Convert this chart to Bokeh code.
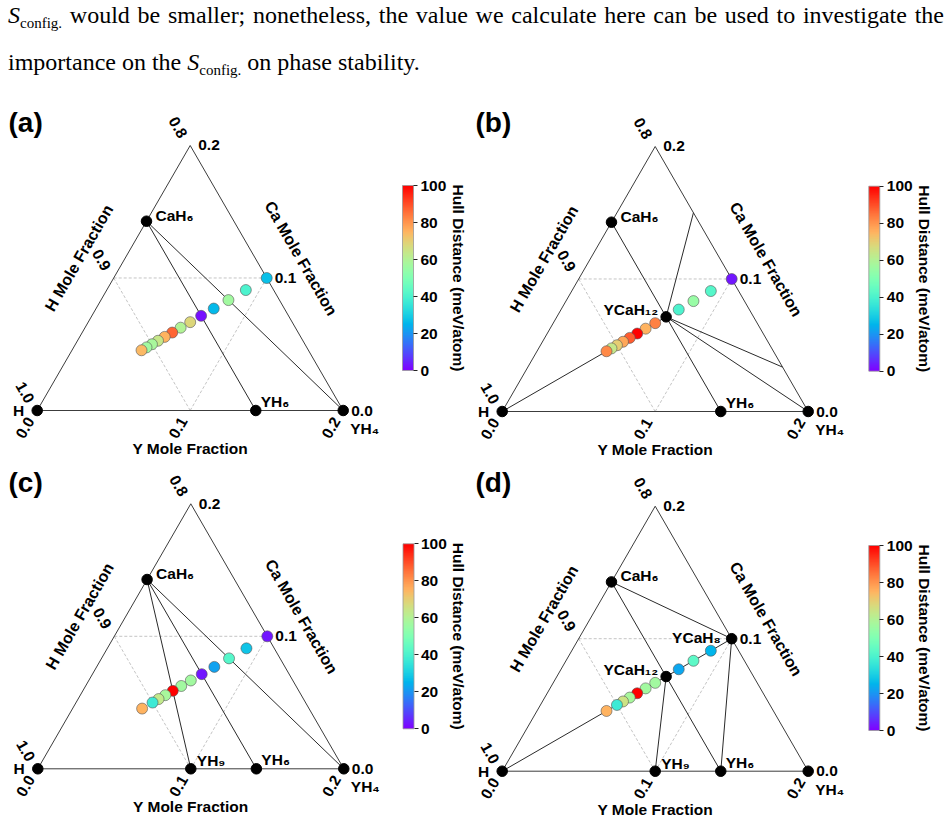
import numpy as np
from bokeh.plotting import figure
from bokeh.models import (ColumnDataSource, LinearColorMapper, ColorBar,
                          FixedTicker, Range1d, Label, Div)
from bokeh.layouts import column, row
from bokeh.embed import file_html
from bokeh.resources import INLINE
from bokeh.core.properties import value
from bokeh.transform import transform

# ---------------- data ----------------
para_line1 = "would be smaller; nonetheless, the value we calculate here can be used to investigate the"
para_line2a = "importance on the"
para_line2b = "on phase stability."

# stable phases: atoms of (Y, Ca, H)
phase_atoms = {
    "H": (0, 0, 1),
    "CaH₆": (0, 1, 6),
    "YH₆": (1, 0, 6),
    "YH₄": (1, 0, 4),
    "YH₉": (1, 0, 9),
    "YCaH₁₂": (1, 1, 12),
    "YCaH₈": (1, 1, 8),
}
# where tie lines leave the plotted window (mole fractions Y, Ca)
edge_points = {"E1": (0.05, 0.15), "E2": (0.1665, 0.0335)}

# sampled YCaH_n compositions and their hull distances (meV/atom)
a_n = [8, 9, 10, 11, 12, 13, 14, 15, 16, 17, 18, 19, 20]
a_hull = [27, 40, 57, 26, 2, 68, 60, 87, 75, 64, 58, 57, 74]
b_n = [8, 9, 10, 11, 13, 14, 15, 16, 17, 18, 19, 20]
b_hull = [3, 42, 55, 40, 83, 75, 100, 88, 77, 70, 64, 82]
c_n = [8, 9, 10, 11, 12, 13, 14, 15, 16, 17, 18, 20]
c_hull = [3, 28, 42, 22, 3, 57, 57, 100, 58, 63, 37, 75]
d_n = [9, 10, 11, 13, 14, 15, 16, 17, 18, 20]
d_hull = [25, 43, 23, 57, 57, 100, 58, 65, 37, 75]

a_stable = ["H", "CaH₆", "YH₆", "YH₄"]
b_stable = ["H", "CaH₆", "YH₆", "YH₄", "YCaH₁₂"]
c_stable = ["H", "CaH₆", "YH₉", "YH₆", "YH₄"]
d_stable = ["H", "CaH₆", "YH₉", "YH₆", "YH₄", "YCaH₁₂", "YCaH₈"]

a_ties = [("CaH₆", "YH₆"), ("CaH₆", "YH₄")]
b_ties = [("H", "YCaH₁₂"), ("CaH₆", "YCaH₁₂"), ("YCaH₁₂", "YH₆"),
          ("YCaH₁₂", "YH₄"), ("YCaH₁₂", "E1"), ("YCaH₁₂", "E2")]
c_ties = [("CaH₆", "YH₉"), ("CaH₆", "YH₆"), ("CaH₆", "YH₄")]
d_ties = [("H", "YCaH₁₂"), ("YCaH₁₂", "YCaH₈"), ("CaH₆", "YCaH₈"),
          ("CaH₆", "YCaH₁₂"), ("YCaH₁₂", "YH₆"), ("YCaH₁₂", "YH₉"),
          ("YCaH₈", "YH₆")]

y_ticks = [0.0, 0.1, 0.2]
ca_ticks = [0.0, 0.1, 0.2]
h_ticks = [1.0, 0.9, 0.8]
grid_vals = [0.1]
cb_ticks = [0, 20, 40, 60, 80, 100]
hull_low, hull_high = 0, 100
panel_letters = ["(a)", "(b)", "(c)", "(d)"]

# ---------------- styling helpers ----------------
SIDE = 306.0
S3 = np.sqrt(3) / 2
FONT = value("Liberation Sans")

xs = np.linspace(0, 1, 256)
_r = np.clip(np.abs(2 * xs - 0.5), 0, 1)
_g = np.clip(np.sin(np.pi * xs), 0, 1)
_b = np.clip(np.cos(np.pi * xs / 2), 0, 1)
rainbow = ["#%02x%02x%02x" % (int(round(255 * r)), int(round(255 * g)), int(round(255 * b)))
           for r, g, b in zip(_r, _g, _b)]

label_style = {  # (x_offset, y_offset, align)
    "H": (-13, 0, "right"),
    "CaH₆": (9, -6, "left"),
    "YH₆": (5, -9, "left"),
    "YH₄": (7, 18, "left"),
    "YH₉": (6, -8, "left"),
    "YCaH₁₂": (-8, -7, "right"),
    "YCaH₈": (-11, -1, "right"),
}


def tern_xy(Y, Ca):
    b = np.asarray(Y, dtype=float) / 0.2
    c = np.asarray(Ca, dtype=float) / 0.2
    return b + 0.5 * c, S3 * c


def frac(name):
    if name in edge_points:
        return edge_points[name]
    y, ca, h = phase_atoms[name]
    t = y + ca + h
    return y / t, ca / t


def txt(p, x, y, text, size, angle=0.0, align="center", baseline="middle", xo=0, yo=0):
    p.text(x=x, y=y, text=text, angle=angle, text_align=align, text_baseline=baseline,
           x_offset=xo, y_offset=yo, text_font=FONT, text_font_style="bold",
           text_font_size=size, text_color="black")


def panel(letter, W, H, x0, yb, ns, hull, stable, ties, cb_left, cb_bottom, letter_x):
    p = figure(width=W, height=H, x_range=Range1d(-x0 / SIDE, (W - x0) / SIDE),
               y_range=Range1d(-yb / SIDE, (H - yb) / SIDE), output_backend="svg",
               toolbar_location=None, min_border=0, x_axis_location=None,
               y_axis_location=None, outline_line_color=None)
    p.grid.visible = False

    # grid lines (dashed)
    for g in grid_vals:
        gx0, gy0 = tern_xy([0, g, 0], [g, 0, g])
        gx1, gy1 = tern_xy([g, g, g], [g, g, 0])
        p.segment(gx0, gy0, gx1, gy1, line_color="#bdbdbd", line_width=0.9, line_dash="3 2")

    # triangle frame
    tx, ty = tern_xy([0, 0.2, 0, 0], [0, 0, 0.2, 0])
    p.line(tx, ty, line_color="#3c3c3c", line_width=1)

    # tie lines
    s0 = [frac(a) for a, b in ties]
    s1 = [frac(b) for a, b in ties]
    x0s, y0s = tern_xy([s[0] for s in s0], [s[1] for s in s0])
    x1s, y1s = tern_xy([s[0] for s in s1], [s[1] for s in s1])
    p.segment(x0s, y0s, x1s, y1s, line_color="#2a2a2a", line_width=1)

    # sampled compositions
    mapper = LinearColorMapper(palette=rainbow, low=hull_low, high=hull_high)
    comp = [1.0 / (n + 2) for n in ns]
    px, py = tern_xy(comp, comp)
    src = ColumnDataSource(dict(x=px, y=py, hull=hull))
    p.scatter("x", "y", source=src, size=11, fill_color=transform("hull", mapper),
              line_color="#555555", line_width=0.6)

    # stable phases
    fr = [frac(s) for s in stable]
    sx, sy = tern_xy([f[0] for f in fr], [f[1] for f in fr])
    p.scatter(sx, sy, size=10.5, color="black")
    for s, X, Y in zip(stable, sx, sy):
        xo, yo, al = label_style[s]
        txt(p, [X], [Y], [s], "15.5px", align=al, xo=xo, yo=yo)

    # tick labels
    bx, by = tern_xy(y_ticks, [0] * len(y_ticks))
    txt(p, bx, by, ["%.1f" % v for v in y_ticks], "15.5px", angle=np.pi / 3,
        align="right", xo=-6.5, yo=8)
    lx, ly = tern_xy([0] * len(h_ticks), [1 - v for v in h_ticks])
    txt(p, lx, ly, ["%.1f" % v for v in h_ticks], "15.5px", angle=-np.pi / 3,
        align="right", xo=-7, yo=-8.5)
    rx, ry = tern_xy([0.2 - v for v in ca_ticks], ca_ticks)
    txt(p, rx, ry, ["%.1f" % v for v in ca_ticks], "15.5px", align="left", xo=8, yo=0)

    # axis titles
    mx, my = tern_xy([0.1, 0.0, 0.1], [0.0, 0.1, 0.1])
    txt(p, [mx[0]], [my[0]], ["Y Mole Fraction"], "15.5px", yo=38)
    txt(p, [mx[1]], [my[1]], ["H Mole Fraction"], "16px", angle=np.pi / 3, xo=-34.6, yo=-20)
    txt(p, [mx[2]], [my[2]], ["Ca Mole Fraction"], "16px", angle=-np.pi / 3, xo=34.2, yo=-19.7)

    # colour bar
    cb = ColorBar(color_mapper=mapper, location=(cb_left, cb_bottom), width=11, height=185,
                  padding=0, margin=0, ticker=FixedTicker(ticks=cb_ticks),
                  major_label_text_font="Liberation Sans", major_label_text_font_size="15.5px",
                  major_label_text_font_style="bold", major_label_text_color="black",
                  major_tick_out=4, major_tick_in=0, major_tick_line_color="#222222",
                  minor_tick_out=0, minor_tick_in=0, label_standoff=3,
                  bar_line_color="#999999", bar_line_width=0.8,
                  background_fill_color=None, border_line_color=None)
    p.add_layout(cb)
    p.add_layout(Label(x=cb_left + 55.5, y=cb_bottom + 92.5, x_units="screen", y_units="screen",
                       text="Hull Distance (meV/atom)", angle=-np.pi / 2, text_align="center",
                       text_baseline="middle", text_font="Liberation Sans",
                       text_font_style="bold", text_font_size="15.5px", text_color="black"))
    p.add_layout(Label(x=letter_x, y=H - 22, x_units="screen", y_units="screen", text=letter,
                       text_align="left", text_baseline="middle", text_font="Liberation Sans",
                       text_font_style="bold", text_font_size="28px", text_color="black"))
    return p


pa = panel(panel_letters[0], 474, 360, 36.7, 50.0, a_n, a_hull, a_stable, a_ties, 402, 90, 8)
pb = panel(panel_letters[1], 475, 360, 27.7, 49.0, b_n, b_hull, b_stable, b_ties, 394.3, 89.3, 1)
pc = panel(panel_letters[2], 474, 361, 37.3, 52.7, c_n, c_hull, c_stable, c_ties, 402.5, 92.7, 8)
pd = panel(panel_letters[3], 475, 361, 27.7, 50.3, d_n, d_hull, d_stable, d_ties, 394.3, 91, 1)

sub = '<span style="font-size:15px;position:relative;top:5px;">config.</span>'
html = (
    '<div style="font-family:\'Liberation Serif\',serif;font-size:24px;color:#000;'
    'position:relative;top:-7px;margin-left:8px;width:936px;line-height:44px;">'
    '<div style="text-align:justify;text-align-last:justify;white-space:nowrap;">'
    '<i>S</i>' + sub + ' ' + para_line1 + '</div>'
    '<div>' + para_line2a + ' <i>S</i>' + sub + ' ' + para_line2b + '</div></div>'
)
div = Div(text=html, width=949, height=100, margin=0)

layout = column(div, row(pa, pb), row(pc, pd))
open("out.html", "w").write(file_html(layout, INLINE))
